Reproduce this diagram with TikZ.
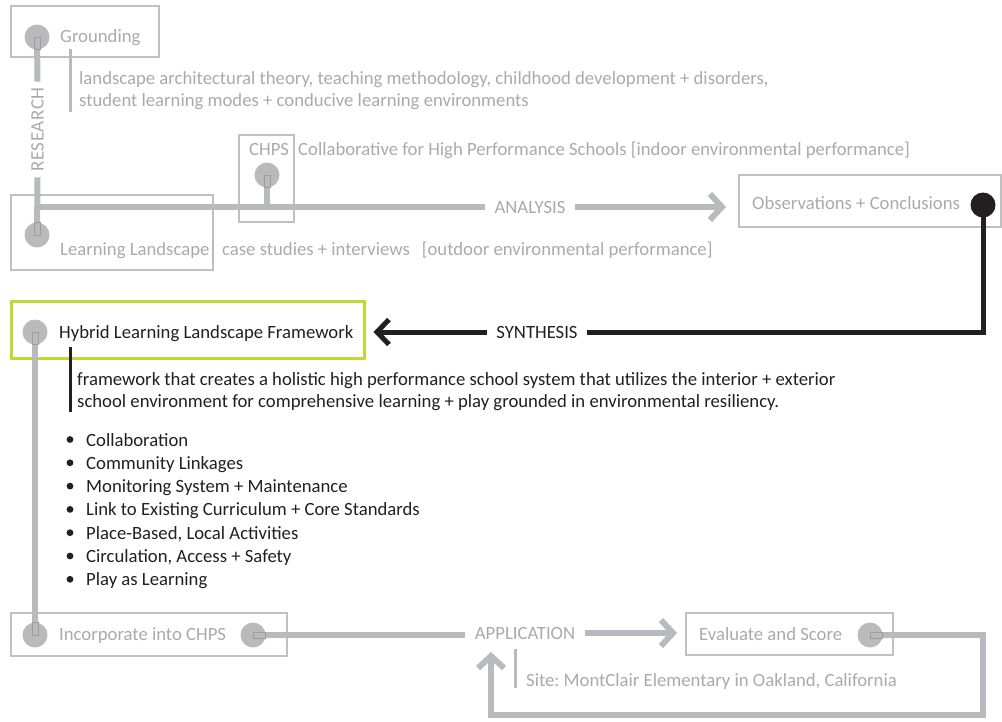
\documentclass[tikz,border=0pt]{standalone}
\usepackage{fontspec}
\setmainfont{Carlito}
\usetikzlibrary{arrows.meta,calc}
\frenchspacing
\definecolor{bargray}{RGB}{185,186,189}
\definecolor{dotgray}{RGB}{186,186,189}
\definecolor{edgegray}{RGB}{192,192,194}
\definecolor{seamgray}{RGB}{158,158,162}
\definecolor{txtgray}{RGB}{170,170,173}
\definecolor{ink}{RGB}{35,31,32}
\definecolor{lime}{RGB}{192,215,52}
\begin{document}
\begin{tikzpicture}[x=1pt,y=-1pt,
  every node/.style={font=\fontsize{18.7}{22}\selectfont\frenchspacing},
  frame/.style={draw=edgegray, line width=2pt, inner sep=0pt},
  limeframe/.style={draw=lime, line width=3pt, inner sep=0pt},
  dot/.style={circle, fill=dotgray, minimum size=25pt, inner sep=0pt},
  inkdot/.style={circle, fill=ink, minimum size=25pt, inner sep=0pt},
  lbl/.style={text=txtgray, anchor=base west, inner sep=0pt},
  inklbl/.style={text=ink, anchor=base west, inner sep=0pt},
  midlbl/.style={anchor=base, inner xsep=9.5pt, inner ysep=0pt},
  bar/.style={draw=bargray, line width=6pt},
  inkbar/.style={draw=ink, line width=5pt},
  seam/.style={draw=seamgray, line width=0.7pt},
  tick/.style={draw=bargray, line width=3pt},
  inktick/.style={draw=ink, line width=3pt},
  grayarrow/.style={bar, -{Straight Barb[sharp, length=12pt, width=26pt, line width=6pt]}},
  inkarrow/.style={inkbar, -{Straight Barb[sharp, length=12pt, width=25pt, line width=5pt]}},
  bullet/.style={circle, fill=ink, minimum size=6.8pt, inner sep=0pt}
]
\useasboundingbox (0,0) rectangle (1002,721);

% ---- frames ----
\node[frame, minimum width=148pt, minimum height=51pt] (gbox) at (85,31.5) {};
\node[frame, minimum width=202pt, minimum height=75pt] (lbox) at (112,232.5) {};
\node[frame, minimum width=55pt, minimum height=87pt] (cbox) at (266.5,178.5) {};
\node[frame, minimum width=262pt, minimum height=52pt] (obox) at (870,201) {};
\node[limeframe, minimum width=353pt, minimum height=57pt] (hbox) at (187.5,329.5) {};
\node[frame, minimum width=276pt, minimum height=43pt] (ibox) at (149,634.5) {};
\node[frame, minimum width=207pt, minimum height=42pt] (ebox) at (789.5,634) {};

% ---- stage marker positions ----
\coordinate (c1) at (37,37);
\coordinate (c2) at (37,235);
\coordinate (c3) at (267,175);
\coordinate (c4) at (983,205);
\coordinate (c5) at (35,332);
\coordinate (c6) at (35,635);
\coordinate (c7) at (253,635);
\coordinate (c8) at (870,635);

% ---- labels on the flow lines ----
\node[rotate=90, text=txtgray, inner xsep=5.5pt, inner ysep=0pt,
      font=\fontsize{19}{22}\selectfont\addfontfeature{LetterSpace=3}] (research) at (37.5,129.5) {RESEARCH};
\node[midlbl, text=txtgray] (analysis) at (530,213) {ANALYSIS};
\node[midlbl, text=ink] (synth) at (537,338) {SYNTHESIS};
\node[midlbl, text=txtgray] (app) at (525,639) {APPLICATION};
\coordinate (loopR) at (983,715);
\coordinate (loopin) at (491,652);

% ---- flow lines ----
\draw[bar] (c1) -- (research.east);
\draw[bar] (research.west) -- (c2);
\draw[bar] (c2 |- analysis.west) -- (analysis.west);
\draw[bar] (c3) -- (c3 |- analysis.west);
\draw[grayarrow, shorten >=12pt] (analysis.east) -- (analysis.east -| obox.west);
\draw[inkbar, line join=miter] (c4) |- (synth.east);
\draw[inkarrow, shorten >=8pt] (synth.west) -- (synth.west -| hbox.east);
\draw[bar] (c5) -- (c6);
\draw[bar] (c7) -- (c7 -| app.west);
\draw[grayarrow, shorten >=8pt] (app.east) -- (app.east -| ebox.west);
\draw[grayarrow, line join=miter] (c8) -| (loopR) -| (loopin);

% markers sit on top of the lines
\node[dot] (m1) at (c1) {};
\node[dot] (m2) at (c2) {};
\node[dot] (m3) at (c3) {};
\node[inkdot] (m4) at (c4) {};
\node[dot] (m5) at (c5) {};
\node[dot] (m6) at (c6) {};
\node[dot] (m7) at (c7) {};
\node[dot] (m8) at (c8) {};

% outlines of the line ends seen through the markers
\draw[seam] ($(c1)+(-3,0)$) rectangle ($(m1.south)+(3,0)$);
\draw[seam] ($(c2)+(-3,0)$) rectangle ($(m2.north)+(3,0)$);
\draw[seam] ($(c3)+(-3,0)$) rectangle ($(m3.south)+(3,0)$);
\draw[seam] ($(c5)+(-3,0)$) rectangle ($(m5.south)+(3,0)$);
\draw[seam] ($(c6)+(-3,0)$) rectangle ($(m6.north)+(3,0)$);
\draw[seam] ($(c7)+(0,-3)$) rectangle ($(m7.east)+(0,3)$);
\draw[seam] ($(c8)+(0,-3)$) rectangle ($(m8.east)+(0,3)$);

% ---- side rules beside descriptions ----
\draw[tick] (70,49) -- (70,112);
\draw[tick, line width=2.5pt] (213,241) -- (213,262);
\draw[inktick] (70,347) -- (70,412);
\draw[tick] (515,649) -- (515,688);

% ---- texts ----
\node[lbl] (tground) at (60,42) {Grounding};
\node[lbl] (dground1) at (79,84) {landscape architectural theory, teaching methodology, childhood development + disorders,};
\node[lbl] (dground2) at (79,106) {student learning modes + conducive learning environments};
\node[lbl] (tchps) at (249,155) {CHPS};
\node[lbl] (dchps) at (298,155) {Collaborative for High Performance Schools [indoor environmental performance]};
\node[lbl] (tlearn) at (60,255) {Learning Landscape};
\node[lbl] (dlearn) at (222,255) {case studies + interviews\hspace{12pt}[outdoor environmental performance]};
\node[lbl] (tobs) at (752,209) {Observations + Conclusions};
\node[inklbl] (thybrid) at (59,338) {Hybrid Learning Landscape Framework};
\node[inklbl] (dhybrid1) at (77,385) {framework that creates a holistic high performance school system that utilizes the interior + exterior};
\node[inklbl] (dhybrid2) at (77,407) {school environment for comprehensive learning + play grounded in environmental resiliency.};
\foreach \t [count=\i from 0] in {Collaboration, Community Linkages, Monitoring System + Maintenance,
    Link to Existing Curriculum + Core Standards, {Place-Based, Local Activities},
    {Circulation, Access + Safety}, Play as Learning} {
  \node[inklbl] (item\i) at (86,446+23.3*\i) {\t};
  \node[bullet] (b\i) at (70,439.5+23.3*\i) {};
}
\node[lbl] (tinc) at (59,640) {Incorporate into CHPS};
\node[lbl] (teval) at (699,640) {Evaluate and Score};
\node[lbl] (tsite) at (526,686) {Site: MontClair Elementary in Oakland, California};
\end{tikzpicture}
\end{document}
